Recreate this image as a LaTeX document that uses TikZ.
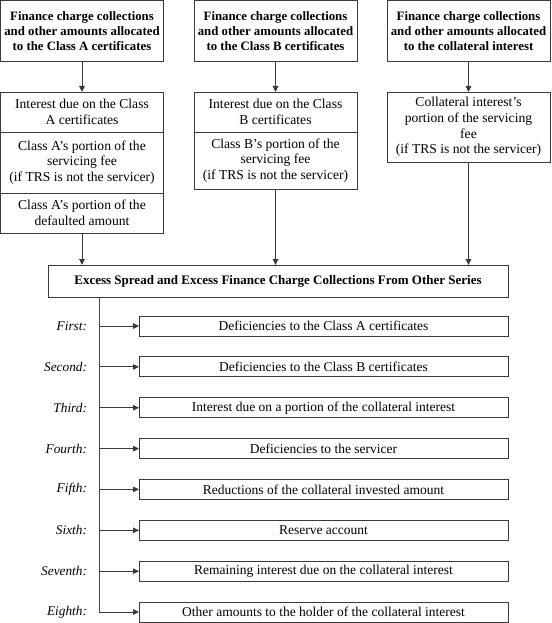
\documentclass[tikz,border=0pt]{standalone}
\usepackage{fontspec}
\setmainfont{Liberation Serif}
\usetikzlibrary{arrows.meta}
\definecolor{linec}{HTML}{3A3A3A}
\begin{document}
\begin{tikzpicture}[x=1pt,y=-1pt,
  every node/.style={inner sep=0pt, outer sep=0pt},
  box/.style={draw=linec, line width=0.9pt, align=center},
  titlebox/.style={box, anchor=north west, minimum width=163pt, minimum height=61pt,
    font=\fontsize{12.8}{15}\selectfont\bfseries},
  cell/.style={box, anchor=north west, minimum width=163pt,
    font=\fontsize{13.6}{15.6}\selectfont},
  exbox/.style={box, anchor=north west, minimum width=460pt, minimum height=32pt,
    font=\fontsize{13.0}{15}\selectfont\bfseries},
  itembox/.style={box, anchor=west, minimum width=369pt, minimum height=20pt,
    font=\fontsize{13.5}{15.5}\selectfont},
  lbl/.style={anchor=east, font=\fontsize{13.3}{15.3}\selectfont\itshape},
  arr/.style={draw=linec, line width=0.9pt, -{Triangle[length=6pt,width=5.5pt]}},
  spine/.style={draw=linec!80!gray, line width=1pt}
]
\useasboundingbox (0,0) rectangle (551,623);

% top boxes
\node[titlebox] (ta) at (0.5,0.5) {Finance charge collections\\and other amounts allocated\\to the Class A certificates};
\node[titlebox] (tb) at (194,0.5) {Finance charge collections\\and other amounts allocated\\to the Class B certificates};
\node[titlebox] (tc) at (387,0.5) {Finance charge collections\\and other amounts allocated\\to the collateral interest};

% stack A
\node[cell, minimum height=40pt] (a1) at (0.5,92) {Interest due on the Class\\A certificates};
\node[cell, minimum height=61pt] (a2) at (0.5,132) {Class A’s portion of the\\servicing fee\\(if TRS is not the servicer)};
\node[cell, minimum height=40pt] (a3) at (0.5,193) {Class A’s portion of the\\defaulted amount};

% stack B
\node[cell, minimum height=40pt] (b1) at (194,92) {Interest due on the Class\\B certificates};
\node[cell, minimum height=57pt] (b2) at (194,132) {Class B’s portion of the\\servicing fee\\(if TRS is not the servicer)};

% stack C
\node[cell, minimum height=70pt] (c1) at (387,92) {Collateral interest’s\\portion of the servicing\\fee\\(if TRS is not the servicer)};

% excess box
\node[exbox] (ex) at (48,265) {Excess Spread and Excess Finance Charge Collections From Other Series};

% arrows top -> stacks
\draw[arr] (ta) -- (a1);
\draw[arr] (tb) -- (b1);
\draw[arr] (tc) -- (c1);

% arrows stacks -> excess
\draw[arr] (a3.south) -- (a3.south |- ex.north);
\draw[arr] (b2.south) -- (b2.south |- ex.north);
\draw[arr] (c1.south) -- (c1.south |- ex.north);

% items
\node[itembox] (i1) at (139,326.0) {Deficiencies to the Class A certificates};
\node[itembox] (i2) at (139,366.9) {Deficiencies to the Class B certificates};
\node[itembox] (i3) at (139,407.7) {Interest due on a portion of the collateral interest};
\node[itembox] (i4) at (139,448.6) {Deficiencies to the servicer};
\node[itembox] (i5) at (139,489.4) {Reductions of the collateral invested amount};
\node[itembox] (i6) at (139,530.3) {Reserve account};
\node[itembox] (i7) at (139,571.2) {Remaining interest due on the collateral interest};
\node[itembox] (i8) at (139,612.0) {Other amounts to the holder of the collateral interest};

\node[lbl] (l1) at (87,326.0) {First:};
\node[lbl] (l2) at (87,366.9) {Second:};
\node[lbl] (l3) at (87,407.7) {Third:};
\node[lbl] (l4) at (87,448.6) {Fourth:};
\node[lbl] (l5) at (87,489.4) {Fifth:};
\node[lbl] (l6) at (87,530.3) {Sixth:};
\node[lbl] (l7) at (87,571.2) {Seventh:};
\node[lbl] (l8) at (87,612.0) {Eighth:};

% spine
\coordinate (sp) at (ex.south west -| 99,0);
\draw[spine] (sp) -- (sp |- i8.west);
\draw[arr] (sp |- i1.west) -- (i1.west);
\draw[arr] (sp |- i2.west) -- (i2.west);
\draw[arr] (sp |- i3.west) -- (i3.west);
\draw[arr] (sp |- i4.west) -- (i4.west);
\draw[arr] (sp |- i5.west) -- (i5.west);
\draw[arr] (sp |- i6.west) -- (i6.west);
\draw[arr] (sp |- i7.west) -- (i7.west);
\draw[arr] (sp |- i8.west) -- (i8.west);
\end{tikzpicture}
\end{document}
